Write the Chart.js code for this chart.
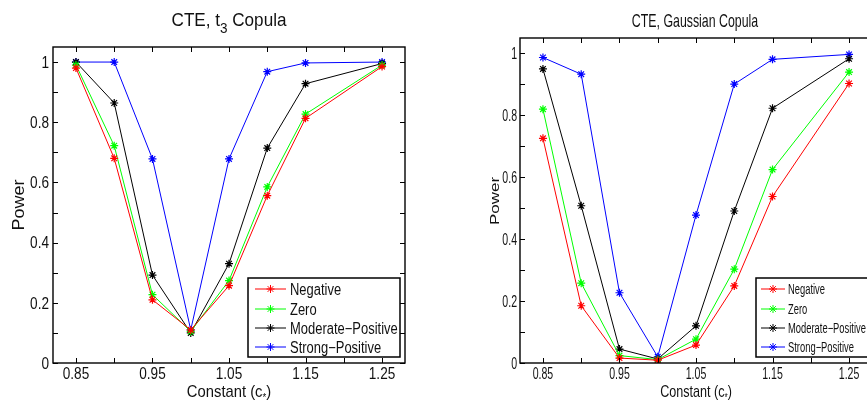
<!DOCTYPE html>
<html>
<head>
<meta charset="utf-8">
<script src="https://cdn.jsdelivr.net/npm/chart.js@4"></script>
<style>
  html, body { margin: 0; padding: 0; background: #fff; overflow: hidden; width: 867px; height: 411px; }
  #leftBox { position: absolute; left: 0; top: 0; width: 420px; height: 411px; }
  #rightBox { position: absolute; left: 440px; top: 0; width: 440px; height: 411px; }
</style>
</head>
<body>
<div id="leftBox"><canvas id="t3Chart" width="420" height="411"></canvas></div>
<div id="rightBox"><canvas id="gaussChart" width="440" height="411"></canvas></div>
<script>
// constants c* on the x axis
const cValues = [0.85, 0.9, 0.95, 1.0, 1.05, 1.1, 1.15, 1.25];
const seriesNames = ['Negative', 'Zero', 'Moderate\u2212Positive', 'Strong\u2212Positive'];
const seriesColors = ['#ff0000', '#00ff00', '#000000', '#0000ff'];

// CTE, t3 copula
const t3Negative = [0.98, 0.68, 0.21, 0.11, 0.257, 0.556, 0.813, 0.985];
const t3Zero     = [0.99, 0.722, 0.227, 0.105, 0.274, 0.585, 0.827, 0.99];
const t3Moderate = [1.0, 0.864, 0.292, 0.10, 0.33, 0.714, 0.928, 0.995];
const t3Strong   = [1.0, 1.0, 0.678, 0.11, 0.678, 0.968, 0.997, 1.0];

// CTE, Gaussian copula
const gNegative = [0.726, 0.185, 0.016, 0.009, 0.058, 0.249, 0.538, 0.903];
const gZero     = [0.82, 0.258, 0.024, 0.011, 0.077, 0.303, 0.625, 0.94];
const gModerate = [0.95, 0.508, 0.045, 0.013, 0.12, 0.491, 0.823, 0.983];
const gStrong   = [0.987, 0.933, 0.227, 0.02, 0.478, 0.901, 0.981, 0.997];

// axis ticks
const xTickValues = [0.85, 0.9, 0.95, 1.0, 1.05, 1.1, 1.15, 1.2, 1.25];
const xLabelValues = [0.85, 0.95, 1.05, 1.15, 1.25];
const xTickLabels = ['0.85', '0.95', '1.05', '1.15', '1.25'];
const yTickValues = [0, 0.1, 0.2, 0.3, 0.4, 0.5, 0.6, 0.7, 0.8, 0.9, 1.0];
const yLabelValues = [0, 0.2, 0.4, 0.6, 0.8, 1.0];
const yTickLabels = ['0', '0.2', '0.4', '0.6', '0.8', '1'];

const FONT = '"Liberation Sans", Arial, sans-serif';
const TXT = '#111';

// text squeezed horizontally by sx (the original figure was compressed)
function sText(ctx, text, x, y, size, sx, align) {
  ctx.save();
  ctx.translate(x, y);
  ctx.scale(sx, 1);
  ctx.font = size + 'px ' + FONT;
  ctx.textAlign = align;
  ctx.textBaseline = 'alphabetic';
  ctx.fillText(text, 0, 0);
  ctx.restore();
}

// normal / subscript parts, centred on x
function partsText(ctx, parts, x, y, size, subSize, sx) {
  let w = 0;
  parts.forEach(p => { ctx.font = (p.sub ? subSize : size) + 'px ' + FONT; w += ctx.measureText(p.t).width * sx; });
  let cx = x - w / 2;
  parts.forEach(p => {
    const s = p.sub ? subSize : size;
    sText(ctx, p.t, cx, p.sub ? y + p.drop : y, s, sx, 'left');
    ctx.font = s + 'px ' + FONT;
    cx += ctx.measureText(p.t).width * sx;
  });
}

// matlab-like frame, inward ticks, labels, titles and legend
const matlabDecor = {
  id: 'matlabDecor',
  afterDatasetsDraw(chart, args, o) {
    const ctx = chart.ctx;
    const a = chart.chartArea;
    const xs = chart.scales.x, ys = chart.scales.y;
    ctx.save();
    ctx.strokeStyle = '#000';
    ctx.lineWidth = 1.4;
    ctx.strokeRect(a.left, a.top, a.right - a.left, a.bottom - a.top);
    ctx.lineWidth = 1;
    ctx.beginPath();
    xTickValues.forEach(v => {
      const px = Math.round(xs.getPixelForValue(v)) + 0.5;
      ctx.moveTo(px, a.bottom); ctx.lineTo(px, a.bottom - 5);
      ctx.moveTo(px, a.top); ctx.lineTo(px, a.top + 5);
    });
    yTickValues.forEach(v => {
      const py = Math.round(ys.getPixelForValue(v)) + 0.5;
      ctx.moveTo(a.left, py); ctx.lineTo(a.left + 5, py);
      ctx.moveTo(a.right, py); ctx.lineTo(a.right - 5, py);
    });
    ctx.stroke();

    ctx.fillStyle = TXT;
    // tick labels
    xLabelValues.forEach((v, i) => {
      sText(ctx, xTickLabels[i], xs.getPixelForValue(v), o.xLabelY, o.tickSize, o.sx, 'center');
    });
    yLabelValues.forEach((v, i) => {
      sText(ctx, yTickLabels[i], o.yLabelX, ys.getPixelForValue(v) + o.tickSize * 0.36, o.tickSize, o.sx, 'right');
    });

    // titles
    partsText(ctx, o.title, o.titleX, o.titleY, o.titleSize, o.titleSubSize, o.titleSx);
    partsText(ctx, o.xTitle, o.xTitleX, o.xTitleY, o.xTitleSize, o.xTitleSubSize, o.xTitleSx);
    ctx.save();
    ctx.translate(o.yTitleX, o.yTitleY);
    ctx.rotate(-Math.PI / 2);
    ctx.scale(1, o.yTitleSy);
    ctx.font = o.yTitleSize + 'px ' + FONT;
    ctx.textAlign = 'center';
    ctx.textBaseline = 'middle';
    ctx.fillText('Power', 0, 0);
    ctx.restore();

    // legend
    const lg = o.legend;
    ctx.fillStyle = '#fff';
    ctx.fillRect(lg.x, lg.y, lg.w, lg.h);
    ctx.lineWidth = 1.5;
    ctx.strokeStyle = '#000';
    ctx.strokeRect(lg.x, lg.y, lg.w, lg.h);
    chart.data.datasets.forEach((ds, i) => {
      const ry = lg.rowY[i];
      ctx.strokeStyle = ds.borderColor;
      ctx.fillStyle = ds.borderColor;
      ctx.lineWidth = 1;
      ctx.beginPath();
      ctx.moveTo(lg.lineX0, ry); ctx.lineTo(lg.lineX1, ry);
      ctx.stroke();
      Chart.helpers.drawPoint(ctx, { pointStyle: 'star', radius: 4, borderWidth: 1 }, (lg.lineX0 + lg.lineX1) / 2, ry);
      ctx.fillStyle = TXT;
      sText(ctx, ds.label, lg.textX, ry + lg.size * 0.36, lg.size, lg.sx, 'left');
    });
    ctx.restore();
  }
};

function makeDatasets(series) {
  return series.map((vals, i) => ({
    label: seriesNames[i],
    data: cValues.map((c, k) => ({ x: c, y: vals[k] })),
    borderColor: seriesColors[i],
    backgroundColor: seriesColors[i],
    borderWidth: 1,
    pointStyle: 'star',
    pointRadius: 4,
    pointBorderWidth: 1.2,
    pointBorderColor: seriesColors[i],
    tension: 0
  }));
}

function makeChart(id, series, cfg) {
  return new Chart(document.getElementById(id).getContext('2d'), {
    type: 'line',
    data: { datasets: makeDatasets(series) },
    plugins: [matlabDecor],
    options: {
      responsive: false,
      animation: false,
      devicePixelRatio: 1,
      layout: { padding: cfg.padding },
      plugins: {
        legend: { display: false },
        tooltip: { enabled: false },
        matlabDecor: cfg.decor
      },
      scales: {
        x: {
          type: 'linear', min: 0.82, max: 1.28,
          afterBuildTicks: s => { s.ticks = xTickValues.map(v => ({ value: v })); },
          afterFit: s => { s.height = cfg.xHeight; },
          grid: { display: false }, border: { display: false },
          ticks: { display: false }
        },
        y: {
          min: 0, max: 1.05,
          afterBuildTicks: s => { s.ticks = yTickValues.map(v => ({ value: v })); },
          afterFit: s => { s.width = cfg.yWidth; },
          grid: { display: false }, border: { display: false },
          ticks: { display: false }
        }
      }
    }
  });
}

makeChart('t3Chart', [t3Negative, t3Zero, t3Moderate, t3Strong], {
  padding: { left: 0, top: 47, right: 15, bottom: 0 },
  xHeight: 48, yWidth: 53,
  decor: {
    sx: 0.85, tickSize: 16, xLabelY: 379, yLabelX: 49,
    title: [{ t: 'CTE, t' }, { t: '3', sub: true, drop: 7 }, { t: ' Copula' }],
    titleX: 229, titleY: 26, titleSize: 19, titleSubSize: 15, titleSx: 0.9,
    xTitle: [{ t: 'Constant (c' }, { t: '*', sub: true, drop: 4 }, { t: ')' }],
    xTitleX: 229, xTitleY: 397, xTitleSize: 17, xTitleSubSize: 11, xTitleSx: 0.87,
    yTitleX: 19, yTitleY: 205, yTitleSize: 18, yTitleSy: 0.92,
    legend: { x: 248, y: 278, w: 152, h: 79, lineX0: 255, lineX1: 286, textX: 290,
              rowY: [289, 309, 328, 347], size: 16, sx: 0.81 }
  }
});

makeChart('gaussChart', [gNegative, gZero, gModerate, gStrong], {
  padding: { left: 0, top: 38, right: 8, bottom: 0 },
  xHeight: 48, yWidth: 80,
  decor: {
    sx: 0.66, tickSize: 16, xLabelY: 379, yLabelX: 77,
    title: [{ t: 'CTE, Gaussian Copula' }],
    titleX: 255, titleY: 27, titleSize: 19, titleSubSize: 14, titleSx: 0.65,
    xTitle: [{ t: 'Constant (c' }, { t: '*', sub: true, drop: 4 }, { t: ')' }],
    xTitleX: 256, xTitleY: 397, xTitleSize: 17, xTitleSubSize: 11, xTitleSx: 0.74,
    yTitleX: 55, yTitleY: 201, yTitleSize: 17, yTitleSy: 0.8,
    legend: { x: 316, y: 278, w: 130, h: 79, lineX0: 321, lineX1: 345, textX: 348,
              rowY: [289, 309, 328, 347], size: 14, sx: 0.67 }
  }
});
</script>
</body>
</html>
